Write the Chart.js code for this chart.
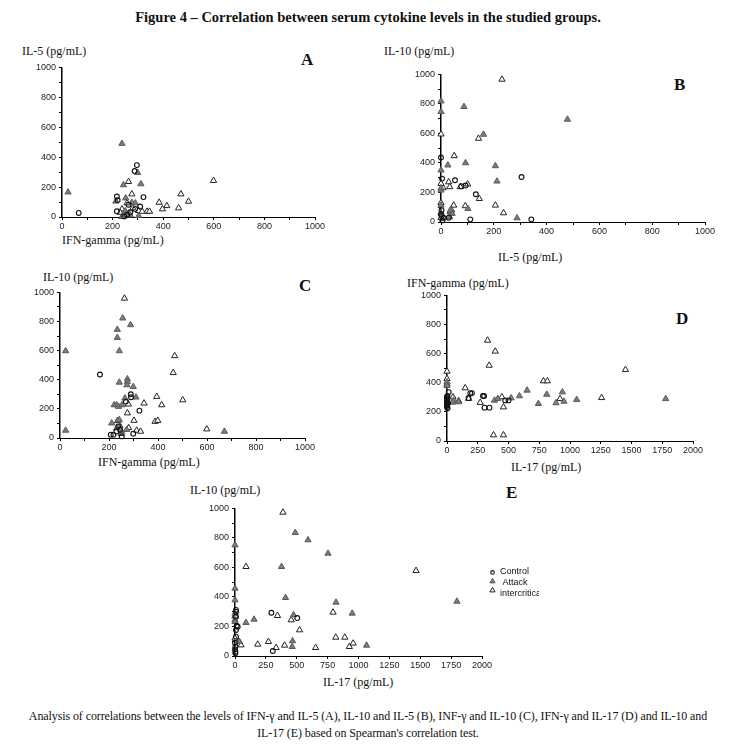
<!DOCTYPE html>
<html>
<head>
<meta charset="utf-8">
<script src="https://cdn.jsdelivr.net/npm/chart.js@4.4.0/dist/chart.umd.min.js"></script>
<style>
  body { margin: 0; width: 736px; height: 753px; position: relative; overflow: hidden; background: #fff; color: #111; font-family: "Liberation Serif", "DejaVu Serif", serif; }
  .t { position: absolute; white-space: nowrap; line-height: 1; }
  .ax { font-size: 12px; }
  .lt { font-size: 17px; font-weight: bold; }
  .cap { left: 0; width: 736px; text-align: center; font-size: 12px; letter-spacing: -0.1px; }
  canvas { position: absolute; }
</style>
</head>
<body>
<div class="t" style="left:0;width:736px;text-align:center;top:10px;font-size:14.5px;font-weight:bold;">Figure 4 – Correlation between serum cytokine levels in the studied groups.</div>

<div class="t ax" style="left:22px;top:45px;">IL-5 (pg/mL)</div>
<div class="t lt" style="left:301px;top:51px;">A</div>
<div class="t ax" style="left:62px;top:234px;">IFN-gamma (pg/mL)</div>

<div class="t ax" style="left:384px;top:45px;">IL-10 (pg/mL)</div>
<div class="t lt" style="left:674px;top:76px;">B</div>
<div class="t ax" style="left:498px;top:251px;">IL-5 (pg/mL)</div>

<div class="t ax" style="left:43px;top:271px;">IL-10 (pg/mL)</div>
<div class="t lt" style="left:299px;top:277px;">C</div>
<div class="t ax" style="left:98px;top:456px;">IFN-gamma (pg/mL)</div>

<div class="t ax" style="left:407px;top:277px;">IFN-gamma (pg/mL)</div>
<div class="t lt" style="left:676px;top:310px;">D</div>
<div class="t ax" style="left:511px;top:461px;">IL-17 (pg/mL)</div>

<div class="t ax" style="left:190px;top:484px;">IL-10 (pg/mL)</div>
<div class="t lt" style="left:506px;top:484px;">E</div>
<div class="t ax" style="left:323px;top:676px;">IL-17 (pg/mL)</div>

<div class="t cap" style="top:710px;">Analysis of correlations between the levels of IFN-γ and IL-5 (A), IL-10 and IL-5 (B), INF-γ and IL-10 (C), IFN-γ and IL-17 (D) and IL-10 and</div>
<div class="t cap" style="top:727px;">IL-17 (E) based on Spearman's correlation test.</div>

<canvas id="chartA"></canvas>
<canvas id="chartB"></canvas>
<canvas id="chartC"></canvas>
<canvas id="chartD"></canvas>
<canvas id="chartE"></canvas>

<script>
// group names as in the legend of panel E
const groupLabels = ['Control', ' Attack', 'intercritical'];

// A: IFN-gamma (x) vs IL-5 (y)
const aControl = [[66,27],[296,347],[287,307],[322,133],[217,137],[220,113],[217,38],[263,82],[309,70],[289,53],[270,31],[257,15],[246,4]];
const aAttack = [[24,166],[237,491],[243,214],[312,221],[299,296],[252,126],[213,105],[276,97],[290,93],[263,25],[241,4],[303,9],[237,2],[250,40],[270,12]];
const aInter = [[263,236],[599,243],[276,153],[470,153],[500,104],[384,97],[414,75],[397,53],[461,60],[336,37],[346,37],[303,42],[237,53],[317,37],[257,93],[280,60],[230,30]];

// B: IL-5 (x) vs IL-10 (y)
const bControl = [[0,437],[4,294],[53,283],[77,242],[93,247],[132,188],[305,305],[111,18],[342,18],[0,52],[5,11],[10,27],[29,29],[2,80],[3,40]];
const bAttack = [[87,781],[479,695],[161,593],[26,385],[93,400],[206,380],[212,276],[102,90],[288,27],[0,819],[0,747],[0,351],[0,215],[0,113],[35,79],[42,57],[33,34],[0,230],[0,60]];
const bInter = [[231,966],[142,566],[50,448],[29,271],[33,238],[73,238],[101,256],[145,158],[48,113],[92,109],[206,113],[237,61],[8,231],[35,68],[0,595],[0,260],[0,130],[0,30],[40,80]];

// C: IFN-gamma (x) vs IL-10 (y)
const cControl = [[163,436],[289,300],[290,280],[324,188],[269,250],[218,23],[252,11],[299,30],[245,57],[238,80],[207,23],[230,45]];
const cAttack = [[23,598],[23,52],[234,745],[234,689],[242,598],[256,823],[288,777],[242,382],[275,405],[275,386],[273,364],[299,352],[310,280],[221,227],[231,227],[239,216],[253,227],[265,273],[211,102],[245,84],[272,57],[671,45],[231,68],[252,45],[242,125]];
const cInter = [[263,959],[468,564],[462,448],[501,261],[395,284],[415,227],[343,239],[275,171],[302,120],[388,113],[399,120],[599,61],[279,232],[235,118],[313,52],[329,45],[250,30],[280,70]];

// D: IL-17 (x) vs IFN-gamma (y)
const dControl = [[189,329],[203,329],[175,295],[292,309],[302,309],[305,229],[345,229],[473,279],[500,279],[14,336],[0,302],[0,290],[0,278],[0,266],[0,255],[0,244],[0,233],[5,225],[8,260],[3,310]];
const dAttack = [[54,279],[95,268],[43,265],[386,279],[413,291],[521,295],[589,309],[651,348],[811,320],[743,256],[886,261],[938,336],[951,272],[1054,284],[1778,290],[0,405],[0,380]];
const dInter = [[330,691],[392,616],[343,519],[1451,490],[0,478],[0,428],[784,412],[816,412],[270,264],[459,233],[446,302],[919,290],[1257,297],[378,41],[459,41],[49,302],[148,364],[176,291],[95,275],[0,390]];

// E: IL-17 (x) vs IL-10 (y)
const eControl = [[295,293],[504,257],[306,34],[14,205],[8,312],[8,300],[8,266],[8,176],[8,131],[3,63],[3,29],[3,18],[22,198],[0,90],[0,45]];
const eAttack = [[488,835],[591,786],[753,695],[377,605],[409,395],[818,363],[949,289],[1797,370],[89,226],[154,248],[474,278],[466,102],[463,63],[1065,72],[0,752],[0,458],[0,379],[0,289],[0,244],[32,97],[0,233]];
const eInter = [[388,973],[89,605],[1466,578],[794,296],[344,273],[455,244],[523,176],[184,79],[271,97],[401,72],[653,56],[889,126],[816,126],[926,63],[957,86],[35,97],[49,74],[333,56],[0,270],[0,120]];

const groupStyles = [
    { pointStyle: 'circle', pointRadius: 2.4, pointBorderWidth: 1.1, pointBackgroundColor: 'rgba(255,255,255,0)', pointBorderColor: '#111' },
    { pointStyle: 'triangle', pointRadius: 3.6, pointBorderWidth: 1, pointBackgroundColor: '#7d7d7d', pointBorderColor: '#5a5a5a' },
    { pointStyle: 'triangle', pointRadius: 3.6, pointBorderWidth: 1, pointBackgroundColor: '#fff', pointBorderColor: '#222' }
];

const tickFont = { family: '"Liberation Sans", Arial, sans-serif', size: 9 };

function toSets(groups) {
    return groups.map((pts, i) => Object.assign({
        label: groupLabels[i],
        data: pts.map(p => ({ x: p[0], y: p[1] })),
        clip: false
    }, groupStyles[i]));
}

// legend of panel E, drawn to the right of the plot area
const sideLegend = {
    id: 'sideLegend',
    afterDraw(chart) {
        const ctx = chart.ctx;
        const a = chart.chartArea;
        const markY = [64, 73, 82];
        const textY = [63, 74.5, 85];
        ctx.save();
        ctx.font = '9px "Liberation Sans", Arial, sans-serif';
        ctx.textBaseline = 'middle';
        groupStyles.forEach((st, i) => {
            ctx.fillStyle = st.pointBackgroundColor;
            ctx.strokeStyle = st.pointBorderColor;
            ctx.lineWidth = st.pointBorderWidth;
            Chart.helpers.drawPoint(ctx, { pointStyle: st.pointStyle, radius: st.pointRadius - 0.6, borderWidth: st.pointBorderWidth, rotation: 0 }, a.right + 10.5, a.top + markY[i]);
            ctx.fillStyle = '#111';
            ctx.fillText(groupLabels[i], a.right + 18, a.top + textY[i]);
        });
        ctx.restore();
    }
};

function buildChart(id, area, padRight, xMax, xStep, xLabelStep, groups, plugins) {
    const cv = document.getElementById(id);
    cv.width = 40 + area.w + padRight;
    cv.height = 8 + area.h + 16;
    cv.style.left = (area.l - 40) + 'px';
    cv.style.top = (area.t - 8) + 'px';
    return new Chart(cv, {
        type: 'scatter',
        data: { datasets: toSets(groups) },
        options: {
            responsive: false,
            animation: false,
            layout: { padding: { top: 8, right: padRight, left: 0, bottom: 0 } },
            plugins: { legend: { display: false }, tooltip: { enabled: false } },
            scales: {
                x: {
                    type: 'linear', min: 0, max: xMax,
                    afterFit: s => { s.height = 16; },
                    ticks: {
                        stepSize: xStep, autoSkip: false, maxRotation: 0, padding: 1,
                        color: '#222', font: tickFont,
                        callback: v => (v % xLabelStep === 0 ? v : '')
                    },
                    grid: { drawOnChartArea: false, tickLength: 3, color: '#000', lineWidth: 1 },
                    border: { color: '#000', width: 1 }
                },
                y: {
                    type: 'linear', min: 0, max: 1000,
                    afterFit: s => { s.width = 40; },
                    ticks: {
                        stepSize: 100, autoSkip: false, padding: 3,
                        color: '#222', font: tickFont,
                        callback: v => (v % 200 === 0 ? v : '')
                    },
                    grid: { drawOnChartArea: false, tickLength: 3, color: '#000', lineWidth: 1 },
                    border: { color: '#000', width: 1.5 }
                }
            }
        },
        plugins: plugins || []
    });
}

buildChart('chartA', { l: 62, t: 67, w: 253, h: 150 }, 15, 1000, 100, 200, [aControl, aAttack, aInter]);
buildChart('chartB', { l: 441, t: 74, w: 264, h: 148 }, 15, 1000, 100, 200, [bControl, bAttack, bInter]);
buildChart('chartC', { l: 60, t: 292, w: 245, h: 146 }, 15, 1000, 100, 200, [cControl, cAttack, cInter]);
buildChart('chartD', { l: 447, t: 295, w: 246, h: 146 }, 15, 2000, 250, 250, [dControl, dAttack, dInter]);
buildChart('chartE', { l: 235, t: 508, w: 247, h: 148 }, 57, 2000, 250, 250, [eControl, eAttack, eInter], [sideLegend]);
</script>
</body>
</html>
